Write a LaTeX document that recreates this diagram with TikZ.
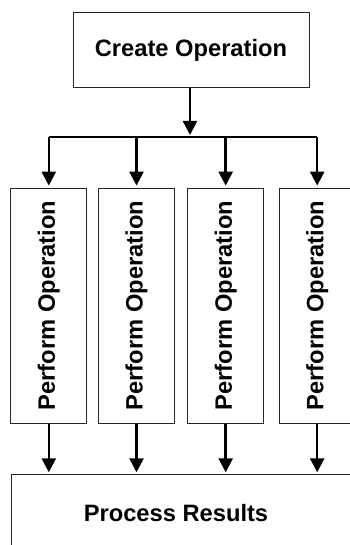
\documentclass[tikz,border=0pt]{standalone}
\usepackage{fontspec}
\setmainfont{Liberation Sans}
\usetikzlibrary{arrows.meta}
\begin{document}
\begin{tikzpicture}[x=1pt,y=-1pt,
  box/.style={draw=black!85,line width=1pt,inner sep=0pt,
    font=\bfseries\fontsize{23.7}{28}\selectfont},
  conn/.style={line width=2.5pt,black},
  arr/.style={conn,-{Triangle[length=14pt,width=14pt]},shorten >=2pt}]
\useasboundingbox (0,0) rectangle (349,545);
\node[box,minimum width=236pt,minimum height=74.6pt] (top) at (191,50) {Create Operation};
\node[box,minimum width=75.7pt,minimum height=235pt] (p1) at (48.8,305.6) {\rotatebox{90}{Perform Operation}};
\node[box,minimum width=75.7pt,minimum height=235pt] (p2) at (136.5,305.6) {\rotatebox{90}{Perform Operation}};
\node[box,minimum width=75.7pt,minimum height=235pt] (p3) at (225.7,305.6) {\rotatebox{90}{Perform Operation}};
\node[box,minimum width=75.7pt,minimum height=235pt] (p4) at (317.2,305.6) {\rotatebox{90}{Perform Operation}};
\node[box,anchor=north west,minimum width=360pt,minimum height=100pt] (proc) at (11,474.3) {};
\node[font=\bfseries\fontsize{23.7}{28}\selectfont,inner sep=0pt] (proclabel) at (176,513) {Process Results};
\coordinate (j) at (190,137);
\draw[arr] (top.south -| j) -- (j);
\draw[conn] (p1.north |- j) -- (p4.north |- j);
\foreach \p in {p1,p2,p3,p4}{
  \draw[arr] (\p.north |- j) -- (\p.north);
  \draw[arr] (\p.south) -- (\p.south |- proc.north);
}
\end{tikzpicture}
\end{document}
